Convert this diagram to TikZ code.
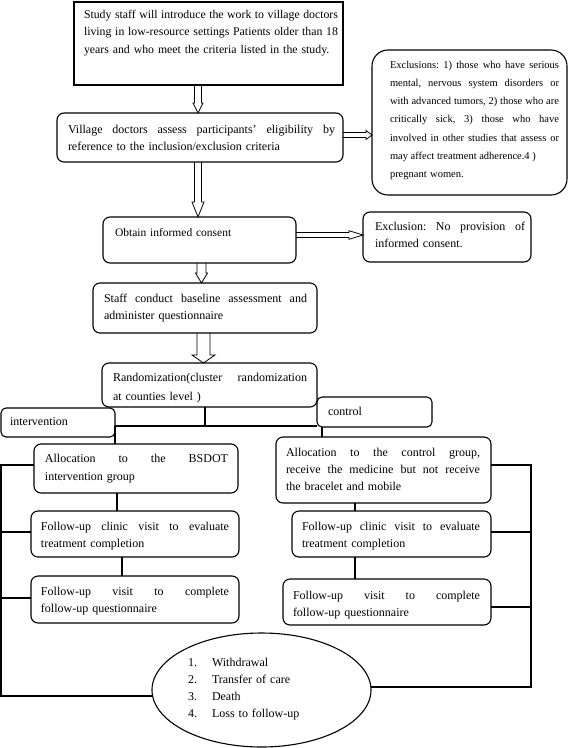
\documentclass[tikz,border=0pt]{standalone}
\usepackage{fontspec}
\setmainfont{Liberation Serif}
\usetikzlibrary{calc,shapes.geometric}
\frenchspacing
\newcommand\mkbox[6]{\node[#6, minimum width={#4-#2}, minimum height={#5-#3}] (#1) at ({(#2+#4)/2},{(#3+#5)/2}) {};}
\newcommand\jl[2]{\leavevmode\hbox to #1pt{\spaceskip=0.25em plus 1fil\relax #2}\\}
\newcommand\hdown[5]{\draw[harrow] let \p1=(#1), \p2=(#2) in (\x1-#3,\y1) -- (\x1-#3,\y2+#5) -- (\x1-#4,\y2+#5) -- (\x1,\y2) -- (\x1+#4,\y2+#5) -- (\x1+#3,\y2+#5) -- (\x1+#3,\y1);}
\newcommand\hright[5]{\draw[harrow] let \p1=(#1), \p2=(#2) in (\x1,\y1+#3) -- (\x2-#5,\y1+#3) -- (\x2-#5,\y1+#4) -- (\x2,\y1) -- (\x2-#5,\y1-#4) -- (\x2-#5,\y1-#3) -- (\x1,\y1-#3);}
\begin{document}
\begin{tikzpicture}[x=1pt,y=-1pt,
  bx/.style={draw, line width=1.1pt, inner sep=0pt, outer sep=0pt},
  rbx/.style={bx, rounded corners=7pt},
  sbx/.style={bx, rounded corners=5pt},
  bigbx/.style={bx, rounded corners=16pt},
  txt/.style={inner sep=0pt, outer sep=0pt, anchor=base west, align=left},
  f12/.style={font=\fontsize{12}{17}\selectfont},
  ln/.style={line width=1.1pt},
  harrow/.style={line width=0.8pt, line join=miter}]
\useasboundingbox (0,0) rectangle (568,748);
\fill[white] (0,0) rectangle (568,748);
% boxes
\mkbox{box1}{74}{2}{343}{85}{bx}
\mkbox{box2}{57}{113}{343}{162}{rbx}
\mkbox{excl}{372}{50}{567}{195}{bigbx}
\mkbox{obtain}{103}{217}{296}{263}{rbx}
\mkbox{excl2}{363}{212}{531}{262}{rbx}
\mkbox{staff}{93}{283}{317}{333}{rbx}
\mkbox{rand}{102}{363}{317}{407}{rbx}
\mkbox{inter}{1}{408}{115}{437}{sbx}
\mkbox{ctrl}{317}{397}{432}{427}{sbx}
\mkbox{alloc1}{34}{444}{238}{493}{rbx}
\mkbox{alloc2}{276}{437}{491}{503}{rbx}
\mkbox{fuoneL}{31}{511}{239}{557}{rbx}
\mkbox{futwoL}{31}{576}{239}{623}{rbx}
\mkbox{fuoneR}{292}{511}{491}{557}{rbx}
\mkbox{futwoR}{283}{579}{491}{625}{rbx}
\node[draw, ellipse, line width=1.1pt, inner sep=0pt, outer sep=0pt, minimum width=219, minimum height=114] (ell) at (261.5,690) {};
% texts
\node[txt, text width=254, font=\fontsize{11.8}{17.5}\selectfont] (t1) at (84,18) {\jl{254}{Study staff will introduce the work to village doctors}\jl{254}{living in low-resource settings Patients older than 18}years and who meet the criteria listed in the study.};
\node[txt, text width=267, font=\fontsize{12}{17}\selectfont] (t2) at (68,133) {\jl{267}{Village doctors assess participants’ eligibility by}reference to the inclusion/exclusion criteria};
\node[txt, text width=169, font=\fontsize{10.5}{18.3}\selectfont] (t3) at (390,68) {\jl{169}{Exclusions: 1) those who have serious}\jl{169}{mental, nervous system disorders or}\jl{169}{with advanced tumors, 2) those who are}\jl{169}{critically sick, 3) those who have}\jl{169}{involved in other studies that assess or}\jl{137}{may affect treatment adherence.4 )}pregnant women.};
\node[txt, text width=170, font=\fontsize{11.5}{17}\selectfont] (t4) at (115,236) {Obtain informed consent};
\node[txt, text width=150, f12] (t5) at (375,230) {\jl{150}{Exclusion: No provision of}informed consent.};
\node[txt, text width=203, f12] (t6) at (104,302) {\jl{203}{Staff conduct baseline assessment and}administer questionnaire};
\node[txt, text width=194, font=\fontsize{12}{19}\selectfont] (t7) at (113,381) {\jl{194}{Randomization(cluster randomization}at counties level )};
\node[txt, text width=100, f12] (t8) at (10,425) {intervention};
\node[txt, text width=100, f12] (t9) at (328,415) {control};
\node[txt, text width=183, font=\fontsize{12}{18}\selectfont] (t10) at (45,462) {\jl{183}{Allocation to the BSDOT}intervention group};
\node[txt, text width=194, f12] (t11) at (286,456) {\jl{194}{Allocation to the control group,}\jl{194}{receive the medicine but not receive}the bracelet and mobile};
\node[txt, text width=188, f12] (t12) at (41,530) {\jl{188}{Follow-up clinic visit to evaluate}treatment completion};
\node[txt, text width=188, f12] (t13) at (41,595) {\jl{188}{Follow-up visit to complete}follow-up questionnaire};
\node[txt, text width=178, f12] (t14) at (302,530) {\jl{178}{Follow-up clinic visit to evaluate}treatment completion};
\node[txt, text width=187, f12] (t15) at (293,599) {\jl{187}{Follow-up visit to complete}follow-up questionnaire};
\node[txt, text width=150, f12] (t16) at (188,666) {\makebox[24pt][l]{1.}Withdrawal\\\makebox[24pt][l]{2.}Transfer of care\\\makebox[24pt][l]{3.}Death\\\makebox[24pt][l]{4.}Loss to follow-up};
% hollow arrows
\coordinate (axA) at (198,0);
\coordinate (axB) at (201.5,0);
\coordinate (axC) at (203.5,0);
\coordinate (ayA) at (0,135);
\coordinate (ayB) at (0,235);
\hdown{box1.south -| axA}{box2.north -| axA}{3.5}{5}{10}
\hdown{box2.south -| axA}{obtain.north -| axA}{3.5}{6}{15}
\hdown{obtain.south -| axB}{staff.north -| axB}{4.5}{6}{10}
\hdown{staff.south -| axC}{rand.north -| axC}{6.5}{11.5}{8}
\hright{box2.east |- ayA}{excl.west |- ayA}{2.5}{4.5}{6}
\hright{obtain.east |- ayB}{excl2.west |- ayB}{2.5}{4.3}{14}
% connectors
\coordinate (jM) at (205,426);
\coordinate (jL) at (115,426);
\coordinate (cx) at (322,0);
\draw[ln] (rand.south -| jM) -- (jM);
\draw[ln] (jL) -- (jL -| ctrl.west);
\draw[ln] (jL) -- (jL |- alloc1.north);
\draw[ln] (ctrl.south -| cx) -- (alloc2.north -| cx);
\coordinate (vA) at (117,0);
\coordinate (vB) at (122,0);
\coordinate (vC) at (355,0);
\draw[ln] (alloc1.south -| vA) -- (fuoneL.north -| vA);
\draw[ln] (fuoneL.south -| vB) -- (futwoL.north -| vB);
\draw[ln] (alloc2.south -| vC) -- (fuoneR.north -| vC);
\draw[ln] (fuoneR.south -| vC) -- (futwoR.north -| vC);
\coordinate (LA) at (1,465);
\coordinate (LB) at (1,532);
\coordinate (LC) at (1,598);
\coordinate (LD) at (1,696);
\draw[ln] (alloc1.west |- LA) -- (LA) -- (LD) -- (LD -| ell.west);
\draw[ln] (LB) -- (LB -| fuoneL.west);
\draw[ln] (LC) -- (LC -| futwoL.west);
\coordinate (RA) at (531,465);
\coordinate (RB) at (531,532);
\coordinate (RC) at (531,607);
\coordinate (RD) at (531,687);
\draw[ln] (alloc2.east |- RA) -- (RA) -- (RD) -- (RD -| ell.east);
\draw[ln] (RB) -- (RB -| fuoneR.east);
\draw[ln] (RC) -- (RC -| futwoR.east);
\end{tikzpicture}
\end{document}
